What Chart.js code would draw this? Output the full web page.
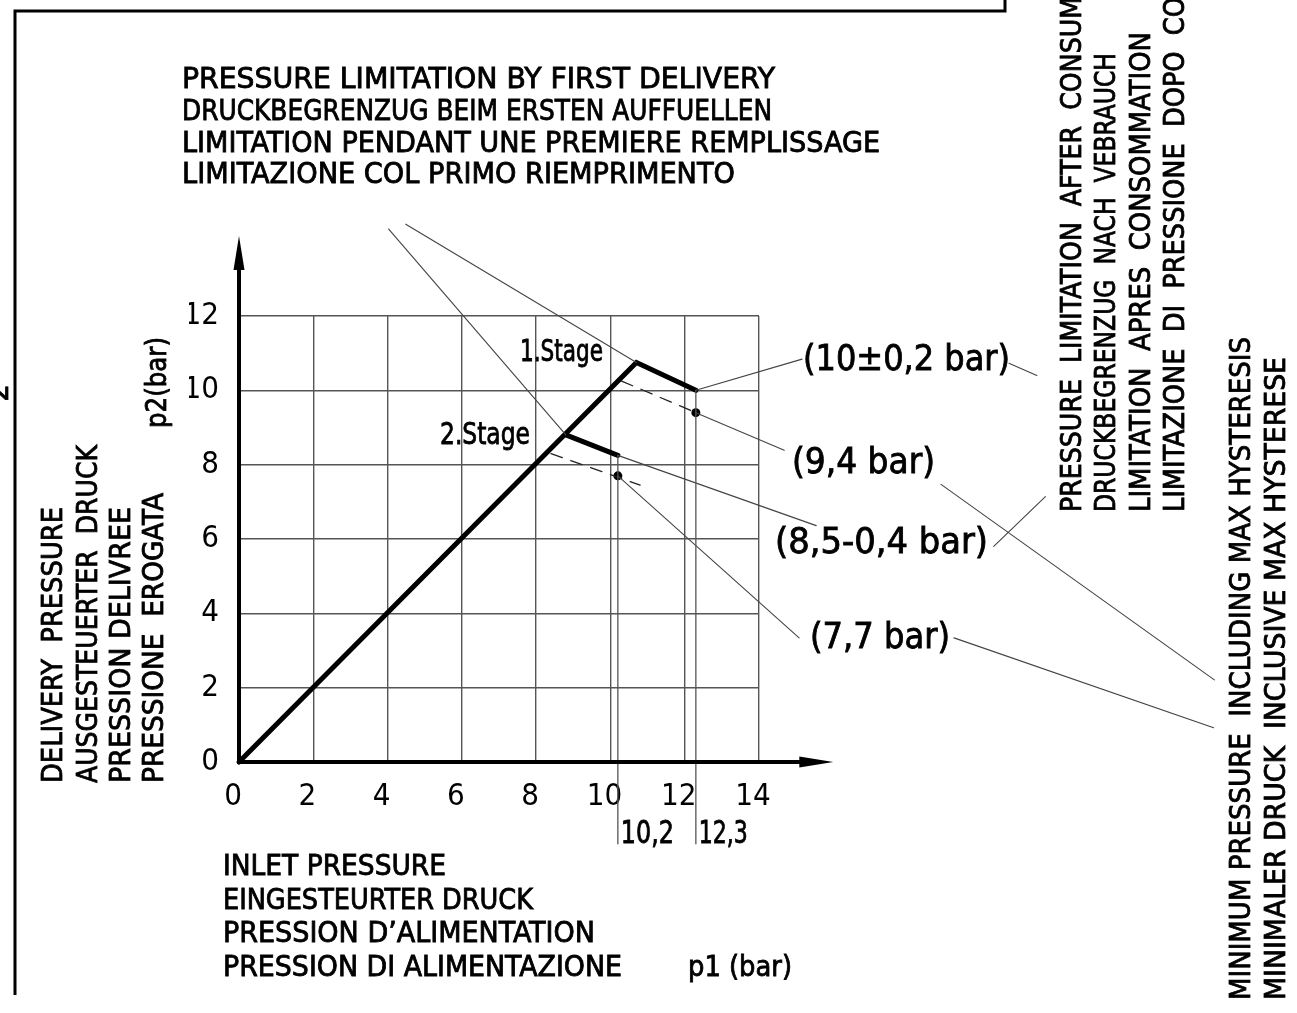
<!DOCTYPE html>
<html>
<head>
<meta charset="utf-8">
<script src="https://cdn.jsdelivr.net/npm/chart.js@4.4.1/dist/chart.umd.min.js"></script>
<style>
  html, body { margin: 0; padding: 0; background: #fff; overflow: hidden; }
  canvas { display: block; }
</style>
</head>
<body>
<canvas id="grafico" width="1297" height="1013"></canvas>
<script>
const fontFamily = '"Liberation Sans Narrow", "DejaVu Sans Condensed", "DejaVu Sans", sans-serif';

// characteristic curve (p1 -> p2)
const stage1 = [{x: 0, y: 0}, {x: 10.7, y: 10.75}, {x: 12.3, y: 10.0}];
const stage2 = [{x: 8.8, y: 8.8}, {x: 10.2, y: 8.25}];
const hysteresis1 = [{x: 10.3, y: 10.25}, {x: 12.3, y: 9.4}];
const hysteresis2 = [{x: 8.4, y: 8.3}, {x: 10.8, y: 7.45}];
const minimumPoints = [{x: 12.3, y: 9.4}, {x: 10.2, y: 7.7}];
const markerX = [10.2, 12.3];
const markerTop = [8.25, 10.0];
const markerBottom = -2.2;
const markerLabels = ["10,2", "12,3"];

// leader lines, in bar units of both axes
const leaders = [
  [{x: 4.49, y: 14.47}, {x: 10.7, y: 10.75}],
  [{x: 4.03, y: 14.34}, {x: 8.8, y: 8.8}],
  [{x: 12.3, y: 10.0}, {x: 15.16, y: 10.84}],
  [{x: 12.3, y: 9.4}, {x: 14.68, y: 8.39}],
  [{x: 10.2, y: 8.25}, {x: 15.54, y: 6.36}],
  [{x: 10.2, y: 7.7}, {x: 15.08, y: 3.34}],
  [{x: 20.73, y: 10.73}, {x: 21.48, y: 10.40}],
  [{x: 18.90, y: 7.47}, {x: 26.26, y: 2.21}],
  [{x: 20.32, y: 5.80}, {x: 21.71, y: 7.14}],
  [{x: 19.25, y: 3.34}, {x: 26.24, y: 0.92}]
];

const axisEnd = {x: 16.0, y: 14.15};

const topLines = [
  "PRESSURE LIMITATION BY FIRST DELIVERY",
  "DRUCKBEGRENZUG BEIM ERSTEN AUFFUELLEN",
  "LIMITATION PENDANT UNE PREMIERE REMPLISSAGE",
  "LIMITAZIONE COL PRIMO RIEMPRIMENTO"
];
const yTitleLines = [
  "DELIVERY  PRESSURE",
  "AUSGESTEUERTER  DRUCK",
  "PRESSION DELIVREE",
  "PRESSIONE  EROGATA"
];
const xTitleLines = [
  "INLET PRESSURE",
  "EINGESTEURTER DRUCK",
  "PRESSION D\u2019ALIMENTATION",
  "PRESSION DI ALIMENTAZIONE"
];
const afterLines = [
  "PRESSURE  LIMITATION  AFTER  CONSUMPTION",
  "DRUCKBEGRENZUG  NACH  VEBRAUCH",
  "LIMITATION  APRES  CONSOMMATION",
  "LIMITAZIONE  DI  PRESSIONE  DOPO  CONSUMO"
];
const afterVisible = [
  "PRESSURE  LIMITATION  AFTER  CONSUM",
  "DRUCKBEGRENZUG  NACH  VEBRAUCH",
  "LIMITATION  APRES  CONSOMMATION",
  "LIMITAZIONE  DI  PRESSIONE  DOPO  CO"
];
const minimumLines = [
  "MINIMUM PRESSURE  INCLUDING MAX HYSTERESIS",
  "MINIMALER DRUCK  INCLUSIVE MAX HYSTERESE"
];
const valueLabels = ["(10\u00b10,2 bar)", "(9,4 bar)", "(8,5-0,4 bar)", "(7,7 bar)"];

function linha(data, width, color, dash) {
  return {
    data: data,
    showLine: true,
    borderColor: color,
    borderWidth: width,
    borderDash: dash || [],
    borderCapStyle: 'round',
    borderJoinStyle: 'miter',
    pointRadius: 0,
    tension: 0,
    clip: false
  };
}

const datasets = [];
markerX.forEach((x, i) => {
  datasets.push(linha([{x: x, y: markerTop[i]}, {x: x, y: markerBottom}], 1.3, '#555'));
});
leaders.forEach(l => datasets.push(linha(l, 1.1, '#444')));
datasets.push(linha(hysteresis1, 1.3, '#222', [12, 9]));
datasets.push(linha(hysteresis2, 1.3, '#222', [12, 9]));
datasets.push(linha(stage1, 5, '#000'));
datasets.push(linha(stage2, 5, '#000'));
datasets.push({
  data: minimumPoints,
  showLine: false,
  pointRadius: 4.5,
  pointBackgroundColor: '#000',
  pointBorderWidth: 0,
  clip: false
});

function cadFont(size) {
  return size + 'px ' + fontFamily;
}

function texto(ctx, str, x, y, rotated, k) {
  ctx.save();
  ctx.translate(x, y);
  if (rotated) ctx.rotate(-Math.PI / 2);
  ctx.scale(k, 1);
  ctx.fillText(str, 0, 0);
  ctx.lineWidth = 0.8;
  ctx.strokeText(str, 0, 0);
  ctx.restore();
}

// stretch a string so that `ref` (a prefix of it, or itself) spans `width` pixels
function textoLargura(ctx, str, x, y, width, rotated, ref) {
  const k = width / ctx.measureText(ref || str).width;
  texto(ctx, str, x, y, rotated, k);
}

function seta(ctx, x0, y0, x1, y1) {
  const ang = Math.atan2(y1 - y0, x1 - x0);
  const len = 34, half = 5.5;
  ctx.beginPath();
  ctx.moveTo(x0, y0);
  ctx.lineTo(x1 - Math.cos(ang) * len * 0.8, y1 - Math.sin(ang) * len * 0.8);
  ctx.stroke();
  ctx.beginPath();
  ctx.moveTo(x1, y1);
  ctx.lineTo(x1 - Math.cos(ang) * len - Math.sin(ang) * half, y1 - Math.sin(ang) * len + Math.cos(ang) * half);
  ctx.lineTo(x1 - Math.cos(ang) * len + Math.sin(ang) * half, y1 - Math.sin(ang) * len - Math.cos(ang) * half);
  ctx.closePath();
  ctx.fill();
}

const desenho = {
  id: 'desenho',
  beforeDraw(chart) {
    const ctx = chart.ctx;
    ctx.save();
    ctx.fillStyle = '#fff';
    ctx.fillRect(0, 0, chart.width, chart.height);
    ctx.strokeStyle = '#000';
    ctx.lineWidth = 3;
    ctx.beginPath();
    ctx.moveTo(15, 995);
    ctx.lineTo(15, 11);
    ctx.lineTo(1005, 11);
    ctx.lineTo(1005, 0);
    ctx.stroke();
    ctx.restore();
  },
  afterDatasetsDraw(chart) {
    const ctx = chart.ctx;
    const sx = chart.scales.x, sy = chart.scales.y;
    const x0 = sx.getPixelForValue(0), y0 = sy.getPixelForValue(0);
    ctx.save();
    ctx.strokeStyle = '#000';
    ctx.fillStyle = '#000';
    ctx.lineWidth = 4;
    seta(ctx, x0, y0 + 2, x0, sy.getPixelForValue(axisEnd.y));
    seta(ctx, x0 - 2, y0, sx.getPixelForValue(axisEnd.x), y0);
    ctx.restore();
  },
  afterDraw(chart) {
    const ctx = chart.ctx;
    const sx = chart.scales.x;
    ctx.save();
    ctx.fillStyle = '#000';
    ctx.strokeStyle = '#000';
    ctx.textBaseline = 'alphabetic';
    ctx.textAlign = 'left';
    ctx.font = cadFont(29);

    const topBase = [88, 120, 152, 183];
    const topWidth = [593, 590, 698, 553];
    topLines.forEach((t, i) => textoLargura(ctx, t, 182, topBase[i], topWidth[i], false));

    const xTitleBase = [875, 909, 942, 976];
    const xTitleWidth = [223, 310, 372, 399];
    xTitleLines.forEach((t, i) => textoLargura(ctx, t, 223, xTitleBase[i], xTitleWidth[i], false));
    textoLargura(ctx, "p1 (bar)", 688, 976, 104, false);

    const yTitleBase = [62, 97, 130, 163];
    const yTitleWidth = [276, 338, 276, 290];
    yTitleLines.forEach((t, i) => textoLargura(ctx, t, yTitleBase[i], 783, yTitleWidth[i], true));
    textoLargura(ctx, "p2(bar)", 166, 428, 91, true);

    const afterBase = [1081, 1115, 1150, 1184];
    const afterWidth = [515, 459, 480, 515];
    afterLines.forEach((t, i) => textoLargura(ctx, t, afterBase[i], 512, afterWidth[i], true, afterVisible[i]));

    const minBase = [1250, 1285];
    const minWidth = [663, 643];
    minimumLines.forEach((t, i) => textoLargura(ctx, t, minBase[i], 1000, minWidth[i], true));

    ctx.font = cadFont(31);
    ctx.textAlign = 'center';
    texto(ctx, "2", 8, 393, true, 1);
    ctx.textAlign = 'left';

    ctx.font = cadFont(36);
    ctx.textBaseline = 'middle';
    const lx = [803, 792, 775, 810];
    const ly = [361, 464, 544, 639];
    const lw = [207, 143, 213, 140];
    valueLabels.forEach((t, i) => textoLargura(ctx, t, lx[i], ly[i], lw[i], false));

    ctx.font = cadFont(31);
    textoLargura(ctx, "1.Stage", 520, 353, 83, false);
    textoLargura(ctx, "2.Stage", 440, 436, 90, false);

    ctx.font = cadFont(32);
    const mw = [53, 49];
    markerLabels.forEach((t, i) => {
      textoLargura(ctx, t, sx.getPixelForValue(markerX[i]) + 3, 835, mw[i], false);
    });
    ctx.restore();
  }
};

const grafico = new Chart(document.getElementById("grafico"), {
  type: 'scatter',
  data: { datasets: datasets },
  options: {
    responsive: false,
    animation: false,
    devicePixelRatio: 1,
    layout: { padding: { left: 189, right: 538, top: 316, bottom: 191 } },
    plugins: { legend: { display: false }, tooltip: { enabled: false } },
    scales: {
      x: {
        type: 'linear',
        min: 0,
        max: 14,
        border: { display: false },
        grid: { color: '#555', lineWidth: 1.4, drawTicks: false },
        ticks: {
          stepSize: 2, padding: 16, labelOffset: -6, maxRotation: 0,
          color: '#000', font: { family: fontFamily, size: 31 }
        },
        afterFit: s => { s.height = 60; }
      },
      y: {
        type: 'linear',
        min: 0,
        max: 12,
        border: { display: false },
        grid: { color: '#555', lineWidth: 1.4, drawTicks: false },
        ticks: {
          stepSize: 2, padding: 20,
          color: '#000', font: { family: fontFamily, size: 31 }
        },
        afterFit: s => { s.width = 50; }
      }
    }
  },
  plugins: [desenho]
});
</script>
</body>
</html>
